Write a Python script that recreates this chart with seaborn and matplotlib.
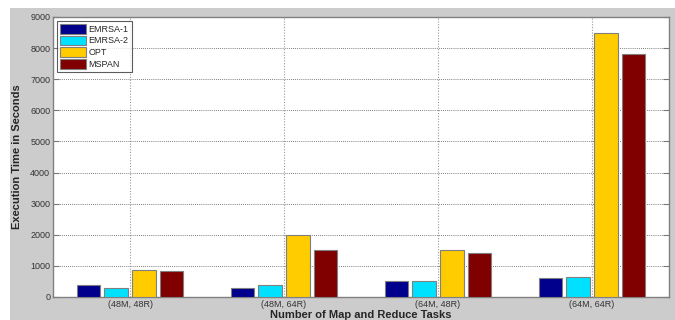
import matplotlib
matplotlib.use("Agg")
import matplotlib.pyplot as plt
from matplotlib.patches import Rectangle
import seaborn as sns
import pandas as pd

tasks = ["(48M, 48R)", "(48M, 64R)", "(64M, 48R)", "(64M, 64R)"]
emrsa1 = [400, 300, 500, 600]
emrsa2 = [300, 400, 500, 650]
opt = [880, 2000, 1500, 8500]
mspan = [850, 1500, 1400, 7800]

methods = ["EMRSA-1", "EMRSA-2", "OPT", "MSPAN"]
colors = {"EMRSA-1": "#00008c", "EMRSA-2": "#00e1ff", "OPT": "#ffcc00", "MSPAN": "#800000"}

rows = []
for name, vals in zip(methods, [emrsa1, emrsa2, opt, mspan]):
    for t, v in zip(tasks, vals):
        rows.append({"task": t, "method": name, "time": v})
df = pd.DataFrame(rows)

sns.set_style("white")
plt.rcParams['font.family'] = ['Liberation Sans', 'DejaVu Sans']

fig = plt.figure(figsize=(6.75, 3.2), dpi=100)
fig.patch.set_facecolor("white")
fig.add_artist(Rectangle((10 / 675, 0), 1, (320 - 8) / 320, transform=fig.transFigure,
                         facecolor="#cccccc", edgecolor="none", zorder=-10))
ax = fig.add_axes([53 / 675, 23 / 320, 616 / 675, 280 / 320])
ax.set_facecolor("white")

sns.barplot(data=df, x="task", y="time", hue="method", order=tasks, hue_order=methods,
            palette=colors, saturation=1, width=0.72, gap=0.16, edgecolor="#7f7f7f",
            linewidth=0.8, ax=ax, zorder=3)

ax.set_xlim(-0.5, 3.5)
ax.set_ylim(0, 9000)
ax.set_yticks(range(0, 9001, 1000))
ax.grid(True, linestyle=(0, (1, 1.5)), color="#555555", linewidth=0.6, zorder=0)
ax.xaxis.grid(True, color="#999999", linewidth=0.8)
ax.set_axisbelow(True)
ax.tick_params(axis="both", direction="in", length=4, labelsize=6.5, colors="#333333",
               right=True, top=False, left=True, bottom=False, pad=2)
ax.tick_params(axis="y", color="#777777")
for s in ax.spines.values():
    s.set_color("#808080")
    s.set_linewidth(1)

ax.set_xlabel("Number of Map and Reduce Tasks", fontsize=8, fontweight="bold", labelpad=1)
ax.set_ylabel("Execution Time in Seconds", fontsize=8, fontweight="bold", labelpad=6)

leg = ax.legend(loc="upper left", fontsize=6.5, handlelength=2.9, handleheight=1.3,
                frameon=True, fancybox=False, borderpad=0.35, labelspacing=0.2,
                handletextpad=0.3, borderaxespad=0.4)
leg.get_frame().set_edgecolor("#333333")
leg.get_frame().set_linewidth(0.8)
leg.set_title(None)

fig.savefig("out.png", dpi=100, facecolor=fig.get_facecolor())
